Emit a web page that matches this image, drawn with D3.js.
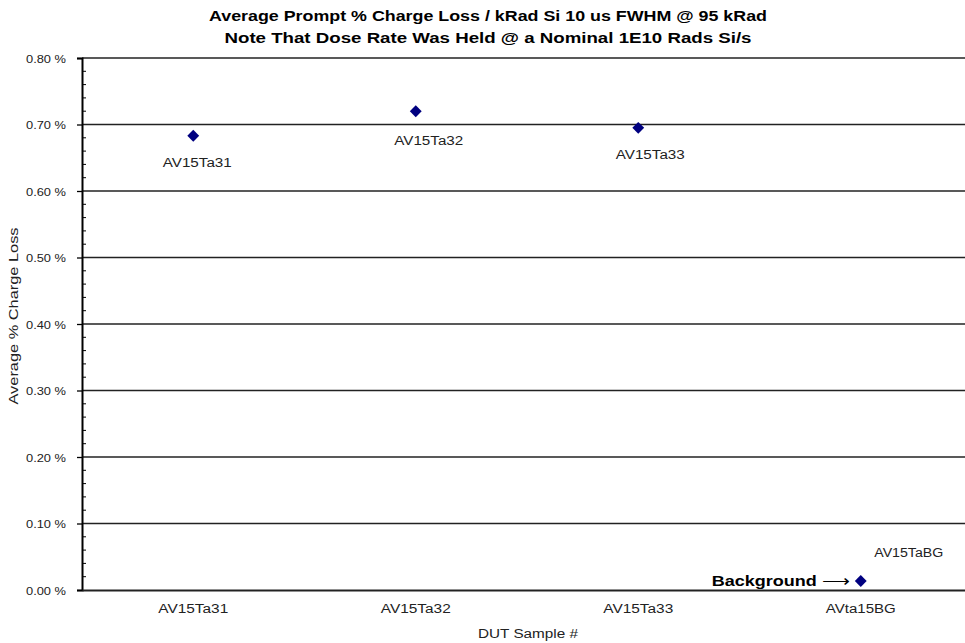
<!DOCTYPE html>
<html><head><meta charset="utf-8">
<script src="https://cdn.jsdelivr.net/npm/d3@7"></script>
<style>body{margin:0;background:#fff}svg{display:block}text{font-family:"Liberation Sans",Arial,sans-serif}</style>
</head><body><svg id="c" width="965" height="643"></svg>
<script>
const categories = ["AV15Ta31","AV15Ta32","AV15Ta33","AVta15BG"];
const pointLabels = ["AV15Ta31","AV15Ta32","AV15Ta33","AV15TaBG"];
const values = [0.683, 0.720, 0.695, 0.0135];
const yTicks = [0,0.1,0.2,0.3,0.4,0.5,0.6,0.7,0.8];
const titleLines = ["Average Prompt % Charge Loss / kRad Si 10 us FWHM @ 95 kRad","Note That Dose Rate Was Held @ a Nominal 1E10 Rads Si/s"];

const svg = d3.select("#c");
const m = {l:82, t:58, r:972, b:590};
const x = d3.scaleBand().domain(categories).range([m.l, m.r]);
const y = d3.scaleLinear().domain([0,0.8]).range([m.b, m.t]);

// gridlines
svg.append("g").selectAll("line").data(yTicks.filter(d=>d>0)).join("line")
  .attr("x1", m.l).attr("x2", m.r).attr("y1", d=>y(d)).attr("y2", d=>y(d))
  .attr("stroke","#222").attr("stroke-width",1.3);

// minor ticks
const minor = d3.range(0,0.8001,0.02).filter(d=>Math.round(d*100)%10!==0);
svg.append("g").selectAll("line").data(minor).join("line")
  .attr("x1", m.l).attr("x2", m.l+4).attr("y1", d=>y(d)).attr("y2", d=>y(d))
  .attr("stroke","#000").attr("stroke-width",1);

// y axis
const yAxis = d3.axisLeft(y).tickValues(yTicks).tickSize(5).tickPadding(11)
  .tickFormat(d=>d3.format(".2f")(d)+" %");
const gy = svg.append("g").attr("transform",`translate(${m.l},0)`).call(yAxis);
gy.select(".domain").attr("stroke","#000").attr("stroke-width",2);
gy.selectAll(".tick line").attr("stroke","#000").attr("stroke-width",1.3);
gy.selectAll(".tick text").attr("font-size",11.5).attr("fill","#222").attr("dy","0.35em")
  .attr("textLength",40).attr("lengthAdjust","spacingAndGlyphs");

// x axis
const xAxis = d3.axisBottom(x).tickSize(0).tickPadding(14);
const gx = svg.append("g").attr("transform",`translate(0,${m.b})`).call(xAxis);
gx.select(".domain").attr("stroke","#222").attr("stroke-width",2);
gx.selectAll(".tick text").attr("font-size",12).attr("fill","#222")
  .attr("textLength",70).attr("lengthAdjust","spacingAndGlyphs");

// points
const diamond = d3.symbol().type(d3.symbolDiamond2).size(90);
svg.append("g").selectAll("path").data(values).join("path")
  .attr("d", diamond)
  .attr("transform",(d,i)=>`translate(${x(categories[i])+x.bandwidth()/2},${y(d)})`)
  .attr("fill","#000080");

// point labels
const lblOff = [[4,31],[13,34],[12,31],[48,-24]];
svg.append("g").selectAll("text").data(values).join("text")
  .attr("x",(d,i)=>x(categories[i])+x.bandwidth()/2+lblOff[i][0])
  .attr("y",(d,i)=>y(d)+lblOff[i][1])
  .attr("text-anchor","middle").attr("font-size",12.5).attr("fill","#222")
  .attr("textLength",69).attr("lengthAdjust","spacingAndGlyphs")
  .text((d,i)=>pointLabels[i]);

// Background annotation
const bgx = x(categories[3])+x.bandwidth()/2, bgy = y(values[3]);
svg.append("text").attr("x",bgx-149).attr("y",bgy+5)
  .attr("font-size",15).attr("font-weight","bold").attr("fill","#000")
  .attr("textLength",105).attr("lengthAdjust","spacingAndGlyphs").text("Background");
svg.append("text").attr("x",bgx-39).attr("y",bgy+5)
  .attr("font-size",16).attr("fill","#000")
  .attr("textLength",28).attr("lengthAdjust","spacingAndGlyphs").text("\u27F6");

// title
const tLen = [558, 527];
svg.append("g").selectAll("text").data(titleLines).join("text")
  .attr("x",488).attr("y",(d,i)=>21+i*22).attr("text-anchor","middle")
  .attr("font-size",14).attr("font-weight","bold").attr("fill","#000")
  .attr("textLength",(d,i)=>tLen[i]).attr("lengthAdjust","spacingAndGlyphs").text(d=>d);

// axis titles
svg.append("text").attr("transform","translate(18,316) rotate(-90)").attr("text-anchor","middle")
  .attr("font-size",12).attr("fill","#222").attr("textLength",177).attr("lengthAdjust","spacingAndGlyphs")
  .text("Average % Charge Loss");
svg.append("text").attr("x",528).attr("y",638).attr("text-anchor","middle")
  .attr("font-size",12).attr("fill","#222").attr("textLength",100).attr("lengthAdjust","spacingAndGlyphs")
  .text("DUT  Sample #");
</script></body></html>
